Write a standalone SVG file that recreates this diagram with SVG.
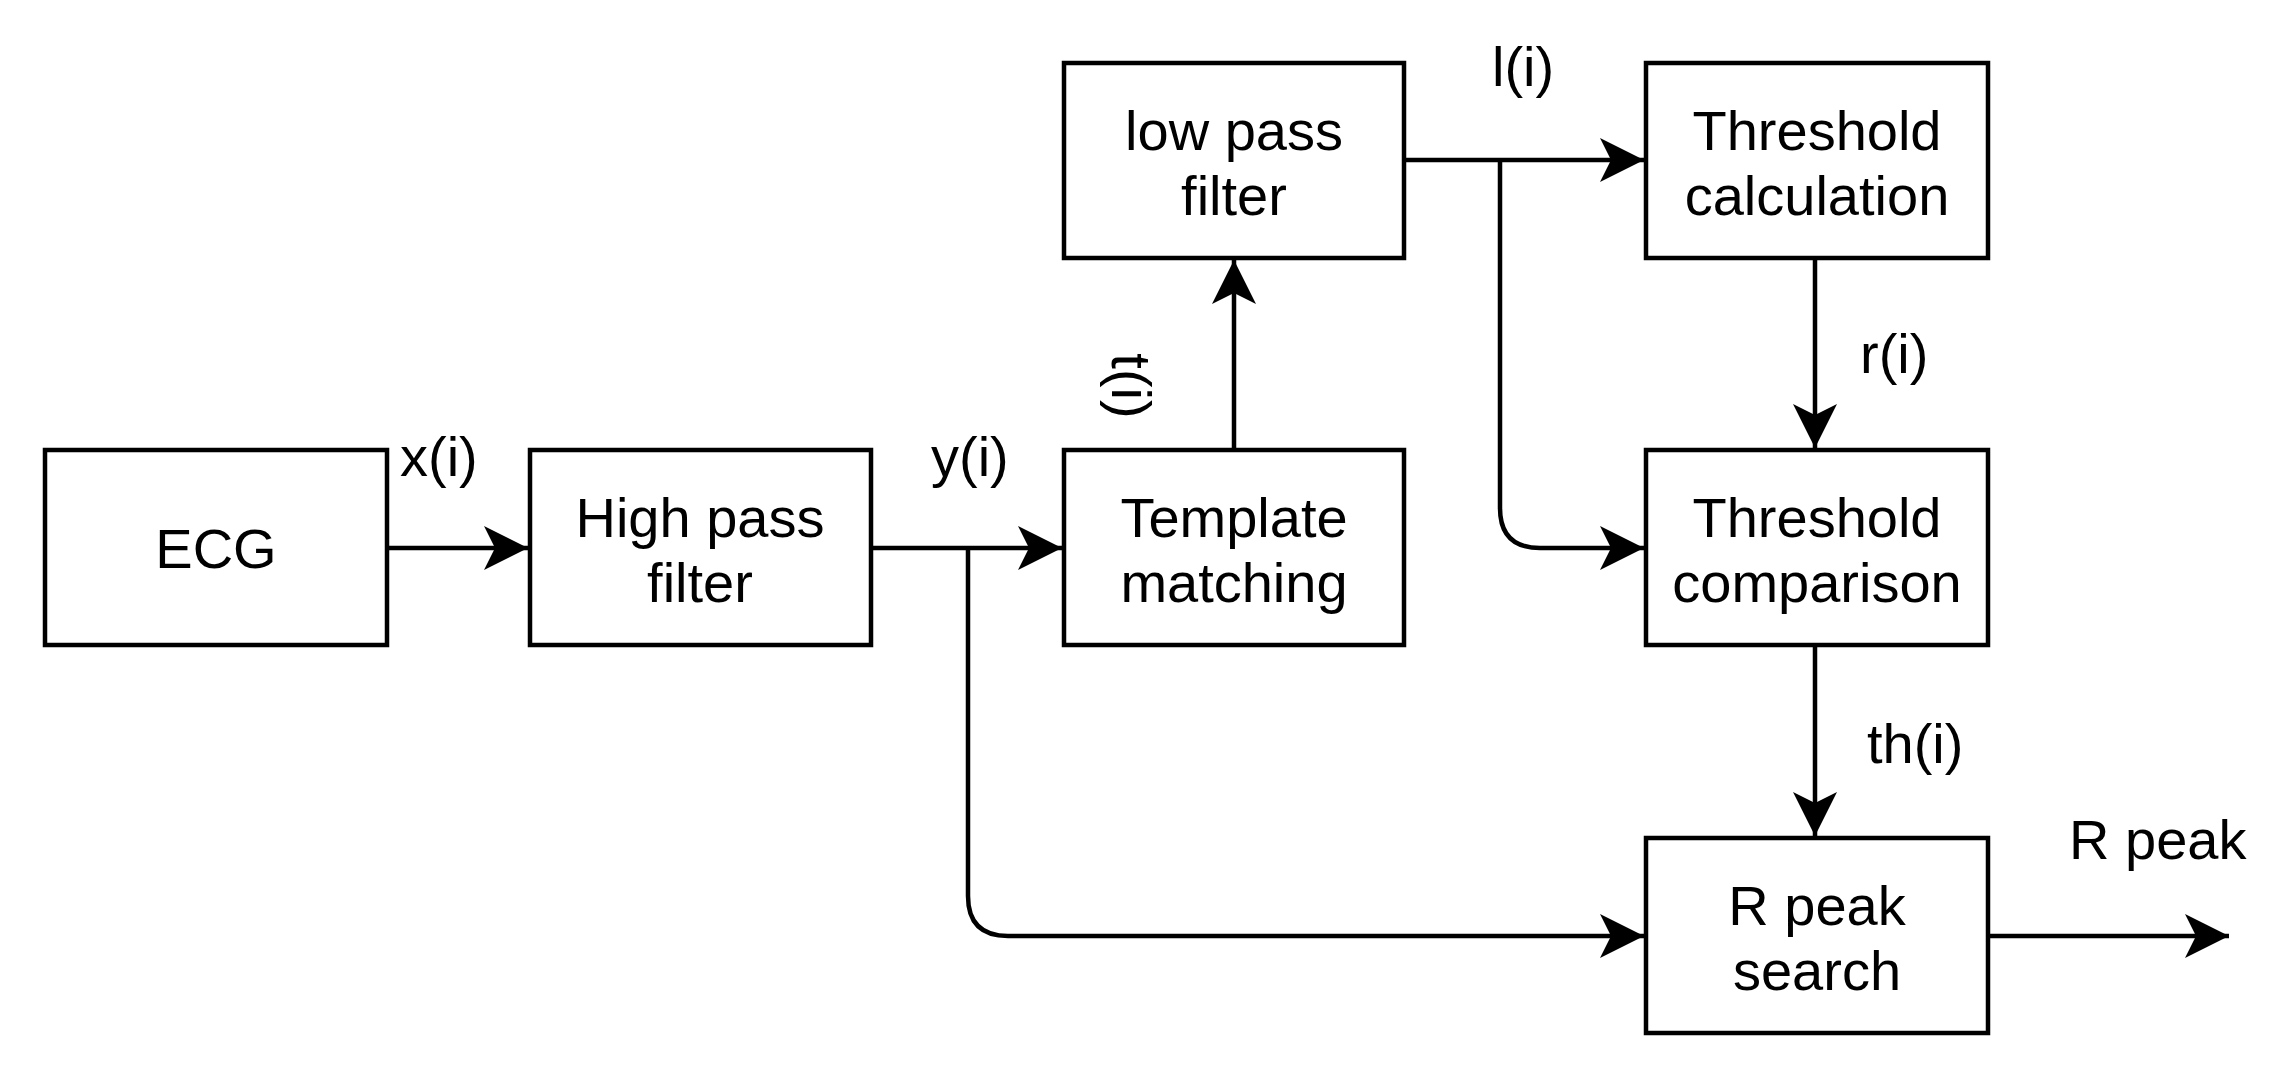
<svg xmlns="http://www.w3.org/2000/svg" width="2291" height="1073" viewBox="0 0 2291 1073">
<style>
rect{fill:#fff;stroke:#000;stroke-width:4.5}
text{font-family:"Liberation Sans",Arial,sans-serif;font-size:56px;fill:#000}
.c{text-anchor:middle}
.l{fill:none;stroke:#000;stroke-width:4.5}
</style>
<defs><marker id="a" markerUnits="userSpaceOnUse" markerWidth="46" markerHeight="46" refX="44" refY="23" orient="auto"><path d="M0,1 L44,23 L0,45 L11,23 Z" fill="#000"/></marker></defs>
<rect width="2291" height="1073" style="stroke:none"/>
<g id="connectors">
<path class="l" d="M387,548 H528" marker-end="url(#a)"/>
<path class="l" d="M871,548 H1062" marker-end="url(#a)"/>
<path class="l" d="M968,548 V896 Q968,936 1008,936 H1644" marker-end="url(#a)"/>
<path class="l" d="M1234,450 V260" marker-end="url(#a)"/>
<path class="l" d="M1404,160 H1644" marker-end="url(#a)"/>
<path class="l" d="M1500,160 V508 Q1500,548 1540,548 H1644" marker-end="url(#a)"/>
<path class="l" d="M1815,258 V448" marker-end="url(#a)"/>
<path class="l" d="M1815,645 V836" marker-end="url(#a)"/>
<path class="l" d="M1988,936 H2229" marker-end="url(#a)"/>
<text x="400" y="476">x(i)</text>
<text x="931" y="476">y(i)</text>
<text x="1492" y="86">l(i)</text>
<text x="1860" y="373">r(i)</text>
<text x="1867" y="763">th(i)</text>
<text x="2069" y="859">R peak</text>
<text class="c" transform="translate(1112,386) rotate(90)" y="0">t(i)</text>
</g>
<g id="ecg"><rect x="45" y="450" width="342" height="195"/><text class="c" x="216" y="568">ECG</text></g>
<g id="hpf"><rect x="530" y="450" width="341" height="195"/><text class="c" x="700" y="537">High pass</text><text class="c" x="700" y="602">filter</text></g>
<g id="tm"><rect x="1064" y="450" width="340" height="195"/><text class="c" x="1234" y="537">Template</text><text class="c" x="1234" y="602">matching</text></g>
<g id="lpf"><rect x="1064" y="63" width="340" height="195"/><text class="c" x="1234" y="150">low pass</text><text class="c" x="1234" y="215">filter</text></g>
<g id="tc"><rect x="1646" y="63" width="342" height="195"/><text class="c" x="1817" y="150">Threshold</text><text class="c" x="1817" y="215">calculation</text></g>
<g id="tcmp"><rect x="1646" y="450" width="342" height="195"/><text class="c" x="1817" y="537">Threshold</text><text class="c" x="1817" y="602">comparison</text></g>
<g id="rps"><rect x="1646" y="838" width="342" height="195"/><text class="c" x="1817" y="925">R peak</text><text class="c" x="1817" y="990">search</text></g>
</svg>
